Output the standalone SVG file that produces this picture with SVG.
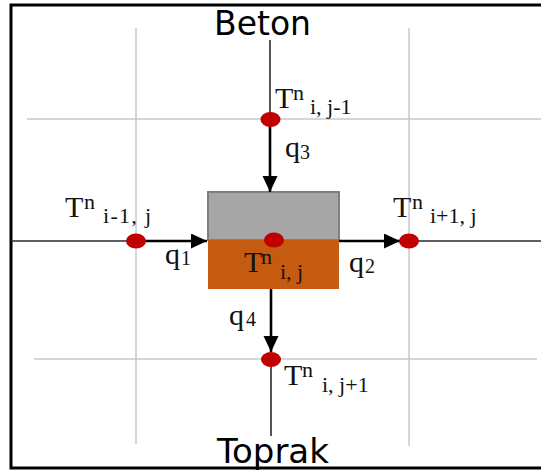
<svg xmlns="http://www.w3.org/2000/svg" width="541" height="470" viewBox="0 0 541 470">
<style>
.grid{stroke:#c9c9c9;stroke-width:1.5;fill:none}
.ln{stroke:#2a2a2a;stroke-width:1.6;fill:none}
.arr{stroke:#000;stroke-width:2.6;fill:none}
.dot{fill:#c00000}
.lab{font-family:"Liberation Serif","Times New Roman",serif;fill:#111}
.big{font-size:30px}
.sup{font-size:22px}
.sub{font-size:22px}
.qs{font-size:20px}
.title{font-family:"DejaVu Sans",Verdana,sans-serif;fill:#000}
</style>
<defs>
<marker id="ah" markerUnits="userSpaceOnUse" markerWidth="17" markerHeight="16" refX="16" refY="7.5" orient="auto">
<path d="M0,0 L16,7.5 L0,15 z" fill="#000"/>
</marker>
</defs>
<rect width="541" height="470" fill="#fff"/>
<g id="grid">
<line class="grid" x1="27" y1="119" x2="541" y2="119"/>
<line class="grid" x1="34" y1="359" x2="537" y2="359"/>
<line class="grid" x1="136" y1="28" x2="136" y2="444"/>
<line class="grid" x1="409" y1="28" x2="409" y2="446"/>
</g>
<path id="frame" d="M541,5 H11 V468 H541" fill="none" stroke="#000" stroke-width="3"/>
<g id="box">
<rect x="208" y="192" width="131" height="48" fill="#a6a6a6" stroke="#7f7f7f" stroke-width="2"/>
<rect x="208" y="240" width="131" height="49" fill="#c55a11"/>
</g>
<g id="connectors">
<line class="ln" x1="270" y1="40" x2="270" y2="119"/>
<line class="ln" x1="11" y1="241" x2="136" y2="241"/>
<line class="ln" x1="409" y1="241" x2="541" y2="241"/>
<line class="ln" x1="271" y1="359" x2="271" y2="436"/>
<line class="arr" x1="270" y1="119" x2="270" y2="192" marker-end="url(#ah)"/>
<line class="arr" x1="136" y1="241" x2="207" y2="241" marker-end="url(#ah)"/>
<line class="arr" x1="339" y1="241" x2="400" y2="241" marker-end="url(#ah)"/>
<line class="arr" x1="271" y1="289" x2="271" y2="352" marker-end="url(#ah)"/>
</g>
<g id="labels-q">
<text class="lab"><tspan class="big" x="285" y="157">q</tspan><tspan class="qs" x="300" y="159">3</tspan></text>
<text class="lab"><tspan class="big" x="165" y="264">q</tspan><tspan class="qs" x="181" y="265">1</tspan></text>
<text class="lab"><tspan class="big" x="349" y="272">q</tspan><tspan class="qs" x="365" y="273">2</tspan></text>
<text class="lab"><tspan class="big" x="229" y="325">q</tspan><tspan class="qs" x="246" y="326">4</tspan></text>
</g>
<g id="node-top">
<ellipse class="dot" cx="270.5" cy="119.5" rx="10" ry="7.5"/>
<text class="lab"><tspan class="big" x="275" y="108">T</tspan><tspan class="sup" x="293" y="100">n</tspan><tspan class="sub" x="310" y="114">i, j-1</tspan></text>
</g>
<g id="node-left">
<ellipse class="dot" cx="136" cy="241" rx="10" ry="7.5"/>
<text class="lab"><tspan class="big" x="65" y="217">T</tspan><tspan class="sup" x="84" y="209">n</tspan><tspan class="sub" x="103" y="223" textLength="48">i-1, j</tspan></text>
</g>
<g id="node-center">
<ellipse class="dot" cx="274" cy="240" rx="10" ry="7.5"/>
<text class="lab"><tspan class="big" x="244" y="272">T</tspan><tspan class="sup" x="261" y="264">n</tspan><tspan class="sub" x="280" y="279">i, j</tspan></text>
</g>
<g id="node-right">
<ellipse class="dot" cx="409" cy="241" rx="10" ry="7.5"/>
<text class="lab"><tspan class="big" x="393" y="217">T</tspan><tspan class="sup" x="412" y="209">n</tspan><tspan class="sub" x="430" y="223">i+1, j</tspan></text>
</g>
<g id="node-bottom">
<ellipse class="dot" cx="271" cy="359.5" rx="10" ry="7.5"/>
<text class="lab"><tspan class="big" x="284" y="385">T</tspan><tspan class="sup" x="302" y="377">n</tspan><tspan class="sub" x="322" y="392">i, j+1</tspan></text>
</g>
<g id="beton">
<text class="title" x="214" y="35" font-size="33">Beton</text>
</g>
<g id="toprak">
<text class="title" x="217" y="463" font-size="34">Toprak</text>
</g>
</svg>
